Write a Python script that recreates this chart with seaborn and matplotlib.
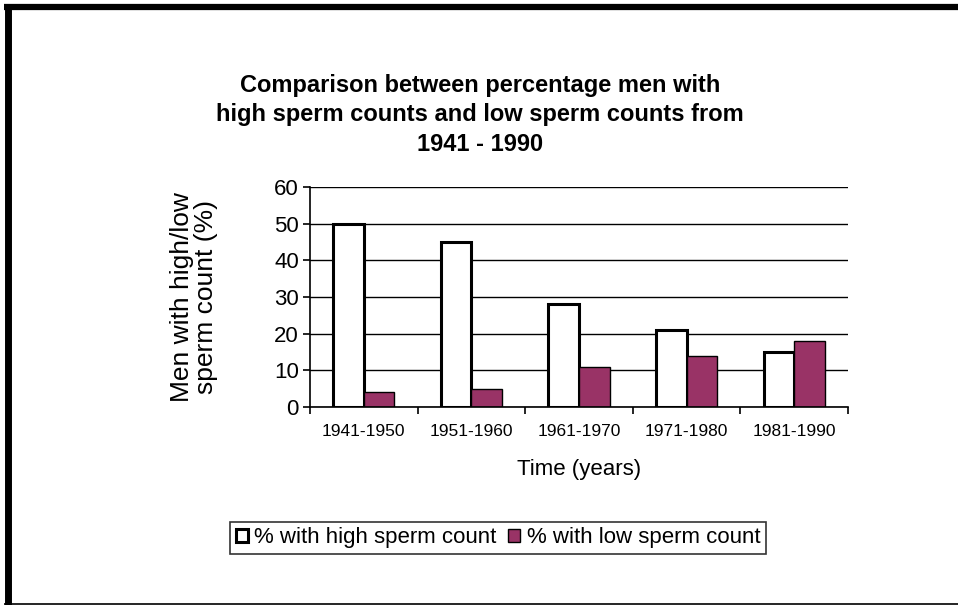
import pandas as pd
import seaborn as sns
import matplotlib.pyplot as plt
from matplotlib.lines import Line2D

# values
periods = ["1941-1950", "1951-1960", "1961-1970", "1971-1980", "1981-1990"]
high_count = [50, 45, 28, 21, 15]
low_count = [4, 5, 11, 14, 18]
series = ["% with high sperm count", "% with low sperm count"]

df = pd.DataFrame({
    "period": periods * 2,
    "value": high_count + low_count,
    "series": [series[0]] * len(periods) + [series[1]] * len(periods),
})

sns.set_style("white")
plt.rcParams['font.family'] = ['Liberation Sans', 'DejaVu Sans']
plt.rcParams.update({'text.color': 'black', 'axes.labelcolor': 'black',
                     'xtick.color': 'black', 'ytick.color': 'black'})

fig = plt.figure(figsize=(9.58, 6.05), dpi=100)
ax = fig.add_axes([310 / 958, 1 - 407 / 605, 538 / 958, 220 / 605])

ax = sns.barplot(data=df, x="period", y="value", hue="series",
                 palette=["white", "#993366"], width=0.57, gap=0,
                 edgecolor="black", saturation=1, ax=ax, legend=False)
for bar in ax.containers[0]:
    bar.set_linewidth(2.2)
for bar in ax.containers[1]:
    bar.set_linewidth(1.0)

ax.set_ylim(0, 60)
ax.set_xlim(-0.5, len(periods) - 0.5)
ax.set_yticks(range(0, 61, 10))
ax.yaxis.grid(True, color="black", linewidth=1)
ax.set_axisbelow(True)
for s in ["top", "right"]:
    ax.spines[s].set_visible(False)
for s in ["left", "bottom"]:
    ax.spines[s].set_color("black")
    ax.spines[s].set_linewidth(1.2)

# category labels centred, tick marks between categories
ax.set_xticks(range(len(periods)))
ax.set_xticklabels(periods, fontsize=12.5)
ax.set_xticks([i - 0.5 for i in range(len(periods) + 1)], minor=True)
ax.tick_params(axis="x", which="major", length=0, pad=12)
ax.tick_params(axis="x", which="minor", length=5, width=1.2, color="black", direction="out", bottom=True)
ax.tick_params(axis="y", length=5, width=1.2, color="black", direction="out", left=True, labelsize=16, pad=3)

ax.set_xlabel("Time (years)", fontsize=16)
ax.xaxis.set_label_coords(0.5, -0.286)
ax.xaxis.label.set_va("center")
ax.set_ylabel("Men with high/low\nsperm count (%)", fontsize=19, linespacing=1.0)
ax.yaxis.set_label_coords(-0.215, 0.5)
ax.yaxis.label.set_va("center")

fig.text(0.501, 1 - 115 / 605,
         "Comparison between percentage men with\nhigh sperm counts and low sperm counts from\n1941 - 1990",
         ha="center", va="center", fontsize=17, fontweight="bold", linespacing=1.35)

handles = [ax.containers[0][0], ax.containers[1][0]]
leg = fig.legend(handles, series, loc="center", bbox_to_anchor=(498 / 958, 1 - 538 / 605),
                 ncol=2, fontsize=16, frameon=True, fancybox=False, edgecolor="black",
                 handlelength=0.55, handleheight=0.55, handletextpad=0.3, columnspacing=0.5,
                 borderpad=0.25, borderaxespad=0)
leg.get_frame().set_linewidth(1.2)

# outer frame of the original picture
fig.add_artist(Line2D([4 / 958, 1], [1 - 7 / 605, 1 - 7 / 605], color="black", linewidth=4.5,
                      solid_capstyle="butt", transform=fig.transFigure))
fig.add_artist(Line2D([7.5 / 958, 7.5 / 958], [1 - 4 / 605, 0], color="black", linewidth=5,
                      solid_capstyle="butt", transform=fig.transFigure))
fig.add_artist(Line2D([4 / 958, 1], [1.5 / 605, 1.5 / 605], color="black", linewidth=1.2,
                      solid_capstyle="butt", transform=fig.transFigure))

plt.savefig("out.png", dpi=100)
